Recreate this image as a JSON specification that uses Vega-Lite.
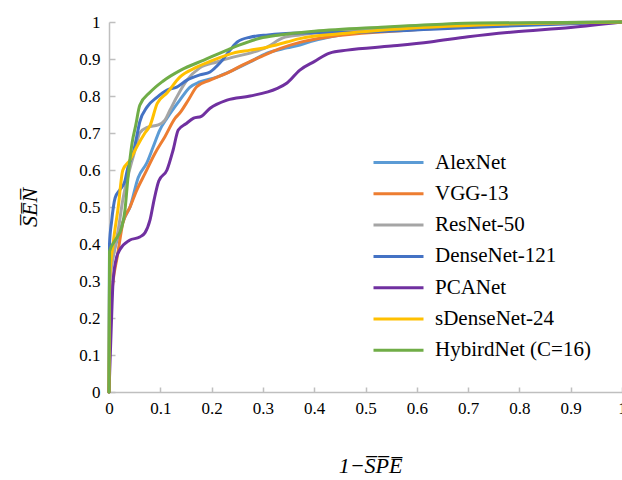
{
  "$schema": "https://vega.github.io/schema/vega-lite/v6.json",
  "width": 513,
  "height": 370,
  "autosize": "none",
  "padding": {"left": 109, "top": 22, "right": 0, "bottom": 88},
  "background": "white",
  "config": {"view": {"stroke": null}, "font": "Liberation Serif"},
  "datasets": {
    "roc": [
      {"model": "AlexNet", "x": 0, "y": 0}, {"model": "AlexNet", "x": 0.001, "y": 0.3}, {"model": "AlexNet", "x": 0.01, "y": 0.38}, {"model": "AlexNet", "x": 0.02, "y": 0.43}, {"model": "AlexNet", "x": 0.03, "y": 0.47}, {"model": "AlexNet", "x": 0.041, "y": 0.5}, {"model": "AlexNet", "x": 0.057, "y": 0.58}, {"model": "AlexNet", "x": 0.074, "y": 0.62}, {"model": "AlexNet", "x": 0.086, "y": 0.662}, {"model": "AlexNet", "x": 0.099, "y": 0.708}, {"model": "AlexNet", "x": 0.113, "y": 0.74}, {"model": "AlexNet", "x": 0.138, "y": 0.789}, {"model": "AlexNet", "x": 0.158, "y": 0.824}, {"model": "AlexNet", "x": 0.177, "y": 0.838}, {"model": "AlexNet", "x": 0.21, "y": 0.851}, {"model": "AlexNet", "x": 0.242, "y": 0.87}, {"model": "AlexNet", "x": 0.275, "y": 0.892}, {"model": "AlexNet", "x": 0.308, "y": 0.916}, {"model": "AlexNet", "x": 0.347, "y": 0.93}, {"model": "AlexNet", "x": 0.372, "y": 0.938}, {"model": "AlexNet", "x": 0.4, "y": 0.95}, {"model": "AlexNet", "x": 0.45, "y": 0.965}, {"model": "AlexNet", "x": 0.53, "y": 0.984}, {"model": "AlexNet", "x": 0.7, "y": 0.993}, {"model": "AlexNet", "x": 1, "y": 1},
      {"model": "VGG-13", "x": 0, "y": 0}, {"model": "VGG-13", "x": 0.002, "y": 0.2}, {"model": "VGG-13", "x": 0.008, "y": 0.3}, {"model": "VGG-13", "x": 0.016, "y": 0.365}, {"model": "VGG-13", "x": 0.027, "y": 0.457}, {"model": "VGG-13", "x": 0.041, "y": 0.5}, {"model": "VGG-13", "x": 0.054, "y": 0.545}, {"model": "VGG-13", "x": 0.07, "y": 0.59}, {"model": "VGG-13", "x": 0.09, "y": 0.646}, {"model": "VGG-13", "x": 0.109, "y": 0.69}, {"model": "VGG-13", "x": 0.129, "y": 0.74}, {"model": "VGG-13", "x": 0.138, "y": 0.754}, {"model": "VGG-13", "x": 0.155, "y": 0.79}, {"model": "VGG-13", "x": 0.171, "y": 0.825}, {"model": "VGG-13", "x": 0.197, "y": 0.843}, {"model": "VGG-13", "x": 0.23, "y": 0.862}, {"model": "VGG-13", "x": 0.261, "y": 0.884}, {"model": "VGG-13", "x": 0.294, "y": 0.905}, {"model": "VGG-13", "x": 0.333, "y": 0.928}, {"model": "VGG-13", "x": 0.372, "y": 0.945}, {"model": "VGG-13", "x": 0.43, "y": 0.96}, {"model": "VGG-13", "x": 0.55, "y": 0.975}, {"model": "VGG-13", "x": 0.75, "y": 0.99}, {"model": "VGG-13", "x": 1, "y": 1},
      {"model": "ResNet-50", "x": 0, "y": 0}, {"model": "ResNet-50", "x": 0.002, "y": 0.3}, {"model": "ResNet-50", "x": 0.01, "y": 0.38}, {"model": "ResNet-50", "x": 0.018, "y": 0.438}, {"model": "ResNet-50", "x": 0.027, "y": 0.52}, {"model": "ResNet-50", "x": 0.04, "y": 0.6}, {"model": "ResNet-50", "x": 0.05, "y": 0.65}, {"model": "ResNet-50", "x": 0.06, "y": 0.7}, {"model": "ResNet-50", "x": 0.076, "y": 0.716}, {"model": "ResNet-50", "x": 0.096, "y": 0.722}, {"model": "ResNet-50", "x": 0.109, "y": 0.735}, {"model": "ResNet-50", "x": 0.119, "y": 0.762}, {"model": "ResNet-50", "x": 0.132, "y": 0.797}, {"model": "ResNet-50", "x": 0.152, "y": 0.843}, {"model": "ResNet-50", "x": 0.177, "y": 0.876}, {"model": "ResNet-50", "x": 0.21, "y": 0.892}, {"model": "ResNet-50", "x": 0.242, "y": 0.905}, {"model": "ResNet-50", "x": 0.275, "y": 0.916}, {"model": "ResNet-50", "x": 0.308, "y": 0.932}, {"model": "ResNet-50", "x": 0.339, "y": 0.957}, {"model": "ResNet-50", "x": 0.372, "y": 0.965}, {"model": "ResNet-50", "x": 0.5, "y": 0.98}, {"model": "ResNet-50", "x": 0.7, "y": 0.995}, {"model": "ResNet-50", "x": 1, "y": 1},
      {"model": "DenseNet-121", "x": 0, "y": 0}, {"model": "DenseNet-121", "x": 0.001, "y": 0.4}, {"model": "DenseNet-121", "x": 0.005, "y": 0.46}, {"model": "DenseNet-121", "x": 0.012, "y": 0.525}, {"model": "DenseNet-121", "x": 0.021, "y": 0.546}, {"model": "DenseNet-121", "x": 0.031, "y": 0.57}, {"model": "DenseNet-121", "x": 0.037, "y": 0.608}, {"model": "DenseNet-121", "x": 0.047, "y": 0.645}, {"model": "DenseNet-121", "x": 0.054, "y": 0.69}, {"model": "DenseNet-121", "x": 0.06, "y": 0.73}, {"model": "DenseNet-121", "x": 0.074, "y": 0.77}, {"model": "DenseNet-121", "x": 0.094, "y": 0.797}, {"model": "DenseNet-121", "x": 0.113, "y": 0.816}, {"model": "DenseNet-121", "x": 0.132, "y": 0.824}, {"model": "DenseNet-121", "x": 0.152, "y": 0.843}, {"model": "DenseNet-121", "x": 0.177, "y": 0.857}, {"model": "DenseNet-121", "x": 0.197, "y": 0.865}, {"model": "DenseNet-121", "x": 0.216, "y": 0.889}, {"model": "DenseNet-121", "x": 0.236, "y": 0.924}, {"model": "DenseNet-121", "x": 0.25, "y": 0.946}, {"model": "DenseNet-121", "x": 0.275, "y": 0.959}, {"model": "DenseNet-121", "x": 0.31, "y": 0.965}, {"model": "DenseNet-121", "x": 0.372, "y": 0.97}, {"model": "DenseNet-121", "x": 0.5, "y": 0.973}, {"model": "DenseNet-121", "x": 0.65, "y": 0.982}, {"model": "DenseNet-121", "x": 0.79, "y": 0.99}, {"model": "DenseNet-121", "x": 1, "y": 1},
      {"model": "PCANet", "x": 0, "y": 0}, {"model": "PCANet", "x": 0.005, "y": 0.2}, {"model": "PCANet", "x": 0.008, "y": 0.3}, {"model": "PCANet", "x": 0.015, "y": 0.365}, {"model": "PCANet", "x": 0.021, "y": 0.384}, {"model": "PCANet", "x": 0.04, "y": 0.41}, {"model": "PCANet", "x": 0.06, "y": 0.419}, {"model": "PCANet", "x": 0.07, "y": 0.43}, {"model": "PCANet", "x": 0.08, "y": 0.465}, {"model": "PCANet", "x": 0.088, "y": 0.52}, {"model": "PCANet", "x": 0.097, "y": 0.57}, {"model": "PCANet", "x": 0.113, "y": 0.6}, {"model": "PCANet", "x": 0.125, "y": 0.654}, {"model": "PCANet", "x": 0.135, "y": 0.708}, {"model": "PCANet", "x": 0.15, "y": 0.725}, {"model": "PCANet", "x": 0.165, "y": 0.74}, {"model": "PCANet", "x": 0.18, "y": 0.745}, {"model": "PCANet", "x": 0.197, "y": 0.767}, {"model": "PCANet", "x": 0.23, "y": 0.789}, {"model": "PCANet", "x": 0.275, "y": 0.8}, {"model": "PCANet", "x": 0.327, "y": 0.82}, {"model": "PCANet", "x": 0.347, "y": 0.835}, {"model": "PCANet", "x": 0.372, "y": 0.87}, {"model": "PCANet", "x": 0.4, "y": 0.893}, {"model": "PCANet", "x": 0.43, "y": 0.916}, {"model": "PCANet", "x": 0.464, "y": 0.924}, {"model": "PCANet", "x": 0.55, "y": 0.935}, {"model": "PCANet", "x": 0.626, "y": 0.946}, {"model": "PCANet", "x": 0.7, "y": 0.96}, {"model": "PCANet", "x": 0.788, "y": 0.973}, {"model": "PCANet", "x": 0.9, "y": 0.985}, {"model": "PCANet", "x": 1, "y": 1},
      {"model": "sDenseNet-24", "x": 0, "y": 0}, {"model": "sDenseNet-24", "x": 0.001, "y": 0.3}, {"model": "sDenseNet-24", "x": 0.008, "y": 0.4}, {"model": "sDenseNet-24", "x": 0.018, "y": 0.5}, {"model": "sDenseNet-24", "x": 0.027, "y": 0.6}, {"model": "sDenseNet-24", "x": 0.041, "y": 0.627}, {"model": "sDenseNet-24", "x": 0.054, "y": 0.662}, {"model": "sDenseNet-24", "x": 0.07, "y": 0.7}, {"model": "sDenseNet-24", "x": 0.08, "y": 0.72}, {"model": "sDenseNet-24", "x": 0.094, "y": 0.78}, {"model": "sDenseNet-24", "x": 0.113, "y": 0.808}, {"model": "sDenseNet-24", "x": 0.138, "y": 0.851}, {"model": "sDenseNet-24", "x": 0.171, "y": 0.878}, {"model": "sDenseNet-24", "x": 0.203, "y": 0.897}, {"model": "sDenseNet-24", "x": 0.242, "y": 0.916}, {"model": "sDenseNet-24", "x": 0.275, "y": 0.924}, {"model": "sDenseNet-24", "x": 0.308, "y": 0.932}, {"model": "sDenseNet-24", "x": 0.347, "y": 0.946}, {"model": "sDenseNet-24", "x": 0.372, "y": 0.955}, {"model": "sDenseNet-24", "x": 0.45, "y": 0.968}, {"model": "sDenseNet-24", "x": 0.53, "y": 0.978}, {"model": "sDenseNet-24", "x": 0.72, "y": 0.992}, {"model": "sDenseNet-24", "x": 1, "y": 1},
      {"model": "HybirdNet (C=16)", "x": 0, "y": 0}, {"model": "HybirdNet (C=16)", "x": 0.001, "y": 0.38}, {"model": "HybirdNet (C=16)", "x": 0.012, "y": 0.41}, {"model": "HybirdNet (C=16)", "x": 0.025, "y": 0.446}, {"model": "HybirdNet (C=16)", "x": 0.031, "y": 0.49}, {"model": "HybirdNet (C=16)", "x": 0.037, "y": 0.58}, {"model": "HybirdNet (C=16)", "x": 0.045, "y": 0.673}, {"model": "HybirdNet (C=16)", "x": 0.052, "y": 0.72}, {"model": "HybirdNet (C=16)", "x": 0.06, "y": 0.775}, {"model": "HybirdNet (C=16)", "x": 0.08, "y": 0.81}, {"model": "HybirdNet (C=16)", "x": 0.105, "y": 0.84}, {"model": "HybirdNet (C=16)", "x": 0.14, "y": 0.87}, {"model": "HybirdNet (C=16)", "x": 0.185, "y": 0.897}, {"model": "HybirdNet (C=16)", "x": 0.23, "y": 0.924}, {"model": "HybirdNet (C=16)", "x": 0.255, "y": 0.938}, {"model": "HybirdNet (C=16)", "x": 0.294, "y": 0.956}, {"model": "HybirdNet (C=16)", "x": 0.333, "y": 0.965}, {"model": "HybirdNet (C=16)", "x": 0.4, "y": 0.975}, {"model": "HybirdNet (C=16)", "x": 0.53, "y": 0.986}, {"model": "HybirdNet (C=16)", "x": 0.65, "y": 0.994}, {"model": "HybirdNet (C=16)", "x": 0.72, "y": 0.997}, {"model": "HybirdNet (C=16)", "x": 1, "y": 1}
    ]
  },
  "data": {"name": "roc"},
  "mark": {"type": "line", "strokeWidth": 3, "strokeCap": "round", "strokeJoin": "round", "interpolate": "monotone", "clip": false},
  "encoding": {
    "x": {
      "field": "x", "type": "quantitative",
      "scale": {"domain": [0, 1], "nice": false, "zero": true},
      "axis": {
        "values": [0, 0.1, 0.2, 0.3, 0.4, 0.5, 0.6, 0.7, 0.8, 0.9, 1],
        "format": ".1~f", "grid": false,
        "domainColor": "#BFBFBF", "domainWidth": 1.5,
        "tickColor": "#BFBFBF", "tickWidth": 1.5, "tickSize": -5,
        "labelFont": "Liberation Serif", "labelFontSize": 17, "labelColor": "#000000",
        "labelPadding": 13, "labelFlush": false, "labelOverlap": false,
        "title": "1−S̅P̅E̅", "titleFont": "Liberation Serif", "titleFontSize": 22,
        "titleFontStyle": "italic", "titleFontWeight": "normal", "titleColor": "#000000",
        "titleX": 261, "titleY": 73, "titleBaseline": "middle", "titleAlign": "center"
      }
    },
    "y": {
      "field": "y", "type": "quantitative",
      "scale": {"domain": [0, 1], "nice": false},
      "axis": {
        "values": [0, 0.1, 0.2, 0.3, 0.4, 0.5, 0.6, 0.7, 0.8, 0.9, 1],
        "format": ".1~f", "grid": false,
        "domainColor": "#BFBFBF", "domainWidth": 1.5,
        "tickColor": "#BFBFBF", "tickWidth": 1.5, "tickSize": -6,
        "labelFont": "Liberation Serif", "labelFontSize": 17, "labelColor": "#000000",
        "labelPadding": 15, "labelFlush": false, "labelOverlap": false,
        "title": "S̅E̅N̅", "titleFont": "Liberation Serif", "titleFontSize": 22,
        "titleFontStyle": "italic", "titleFontWeight": "normal", "titleColor": "#000000",
        "titleX": -80, "titleY": 185, "titleAngle": -90, "titleBaseline": "middle", "titleAlign": "center"
      }
    },
    "color": {
      "field": "model", "type": "nominal",
      "scale": {
        "domain": ["AlexNet", "VGG-13", "ResNet-50", "DenseNet-121", "PCANet", "sDenseNet-24", "HybirdNet (C=16)"],
        "range": ["#5B9BD5", "#ED7D31", "#A5A5A5", "#4472C4", "#7030A0", "#FFC000", "#70AD47"]
      },
      "legend": {
        "orient": "none", "legendX": 279, "legendY": 130, "title": null,
        "symbolType": "M-5,0H5", "symbolSize": 100, "symbolStrokeWidth": 3,
        "labelFont": "Liberation Serif", "labelFontSize": 21, "labelColor": "#000000",
        "labelOffset": 26, "rowPadding": 9.3, "labelLimit": 300
      }
    }
  }
}
